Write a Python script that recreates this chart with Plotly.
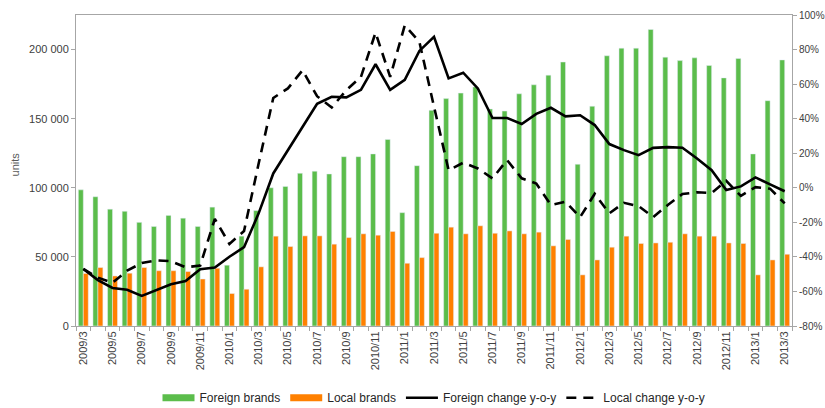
import plotly.graph_objects as go

months = []
for y in range(2009, 2014):
    for m in range(1, 13):
        if (y == 2009 and m < 3) or (y == 2013 and m > 3):
            continue
        months.append(f"{y}/{m}")

foreign_brands = [98500, 93500, 84500, 83000, 75000, 72000, 80000, 78000, 72000, 86000,
                  44000, 65000, 83500, 100000, 101000, 110500, 112000, 110000, 122500, 122500,
                  124500, 135000, 82000, 116000, 156000, 164500, 168500, 173000, 157000, 155500,
                  168000, 174500, 181500, 191000, 117000, 159000, 195500, 201000, 201000, 214500,
                  194500, 192000, 194000, 188500, 179500, 193500, 124500, 163000, 192500]

local_brands = [38000, 42300, 36200, 38200, 42300, 40000, 40000, 39400, 34000, 41800,
                23500, 26600, 42800, 65000, 57500, 65200, 65200, 59200, 64000, 66700,
                65700, 68400, 45400, 49500, 67100, 71500, 66700, 72500, 67100, 68800,
                66700, 67900, 58000, 62600, 37000, 47800, 57000, 65000, 59700, 60100,
                60600, 66700, 65000, 65000, 60100, 59700, 37000, 47800, 51900]

foreign_change = [-47, -53.4, -58, -59, -62.6, -59.2, -55.8, -54, -47.2, -46.2,
                  -39.9, -34.4, -14.8, 8.3, 21.8, 35.3, 48.6, 52.7, 52.3, 56.7,
                  71.5, 56.7, 62.5, 79.2, 87.4, 63.3, 66.6, 57.5, 40.4, 40.4,
                  36.9, 42.8, 46.3, 41.3, 42, 36.3, 25.3, 21.8, 18.9, 23.1,
                  23.5, 23.2, 17, 10.2, -1.3, 0.8, 6, 2, -2]

local_change = [-47, -52, -55, -48, -43.5, -42, -42.5, -46, -45, -18,
                -32.5, -25, 14, 52, 57.5, 68, 53, 46.5, 56.5, 64.2,
                89.8, 64.2, 94, 84.5, 47, 10.2, 14.5, 11.2, 5.4, 16,
                5.5, 2.5, -10, -8.1, -17, -3.5, -14.8, -8.7, -10.6, -17,
                -10, -3.6, -2.6, -3, 4, -4.7, 0.4, -0.5, -9]

units_ticks = [0, 50000, 100000, 150000, 200000]
pct_ticks = [-80, -60, -40, -20, 0, 20, 40, 60, 80, 100]
pct_labels = [f"{v}%" for v in pct_ticks]

GREEN = "#5BBD4B"
ORANGE = "#FF8000"
FONT = "Liberation Sans, Arial, sans-serif"
AXC = "#A6A6A6"
TXT = "#404040"

fig = go.Figure()
fig.add_trace(go.Bar(x=months, y=foreign_brands, marker_color=GREEN, showlegend=False,
                     name="Foreign brands"))
fig.add_trace(go.Bar(x=months, y=local_brands, marker_color=ORANGE, showlegend=False,
                     name="Local brands"))
fig.add_trace(go.Scatter(x=months, y=foreign_change, yaxis="y2", mode="lines",
                         line=dict(color="black", width=2.6), showlegend=False,
                         name="Foreign change y-o-y"))
fig.add_trace(go.Scatter(x=months, y=local_change, yaxis="y2", mode="lines",
                         line=dict(color="black", width=2.6, dash="10px,7px"), showlegend=False,
                         name="Local change y-o-y"))

# legend entries
fig.add_trace(go.Scatter(x=[None], y=[None], mode="lines", name="Foreign brands",
                         line=dict(color=GREEN, width=7)))
fig.add_trace(go.Scatter(x=[None], y=[None], mode="lines", name="Local brands",
                         line=dict(color=ORANGE, width=7)))
fig.add_trace(go.Scatter(x=[None], y=[None], mode="lines", name="Foreign change y-o-y",
                         line=dict(color="black", width=2.6)))
fig.add_trace(go.Scatter(x=[None], y=[None], mode="lines", name="Local change y-o-y",
                         line=dict(color="black", width=2.6, dash="10px,7px")))

fig.update_layout(
    width=825, height=408,
    margin=dict(l=76, r=33, t=15, b=82),
    paper_bgcolor="white", plot_bgcolor="white",
    font=dict(family=FONT, size=11, color=TXT),
    separators=". ",
    barmode="group", bargap=0.32, bargroupgap=0,
    showlegend=True,
    legend=dict(orientation="h", x=0.5, xanchor="center", yref="container", y=0.025,
                yanchor="middle", font=dict(size=12, color="#262626"), itemwidth=32,
                bgcolor="rgba(0,0,0,0)"),
    xaxis=dict(type="category", tickangle=-90, ticklabelstep=2, tickson="boundaries",
               ticks="outside", ticklen=4, tickcolor=AXC, showline=True, linecolor=AXC,
               linewidth=1, mirror=True, showgrid=False, automargin=False,
               tickfont=dict(size=11, color=TXT)),
    yaxis=dict(range=[0, 225000], tickvals=units_ticks,
               tickformat=",d", ticks="outside", ticklen=4, tickcolor=AXC,
               showline=True, linecolor=AXC, linewidth=1, showgrid=False, zeroline=False,
               automargin=False, tickfont=dict(size=11, color=TXT)),
    yaxis2=dict(range=[-80, 100], tickvals=pct_ticks, ticktext=pct_labels,
                overlaying="y", side="right", ticks="outside", ticklen=4, tickcolor=AXC,
                showline=True, linecolor=AXC, linewidth=1, showgrid=False, zeroline=False,
                automargin=False, tickfont=dict(size=10, color=TXT)),
    annotations=[dict(text="units", xref="paper", yref="paper", x=-0.085, y=0.52,
                      xanchor="center", yanchor="middle", textangle=-90, showarrow=False,
                      font=dict(size=11, color="#595959"))],
)

fig.write_html("out.html", config={"displayModeBar": False},
               post_script="document.body.style.margin='0';document.body.style.overflow='hidden';")
